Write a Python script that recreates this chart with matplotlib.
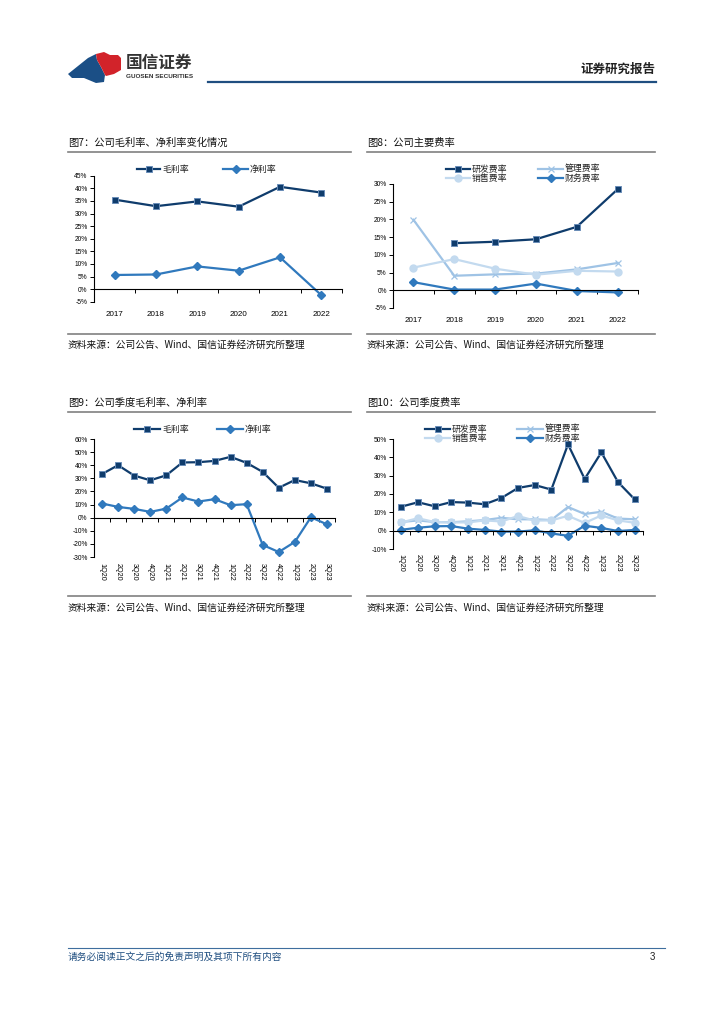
import numpy as np
import matplotlib
matplotlib.use('Agg')
import matplotlib.pyplot as plt
from matplotlib.patches import Polygon
from matplotlib.transforms import blended_transform_factory

plt.rcParams['font.family'] = ['Liberation Sans', 'Noto Sans CJK SC', 'DejaVu Sans']
plt.rcParams['axes.unicode_minus'] = False

# ---- 数据 ----
years = ['2017', '2018', '2019', '2020', '2021', '2022']
gross_y = [35.5, 32.9, 34.8, 32.7, 40.6, 38.3]
net_y = [5.6, 5.8, 9.0, 7.3, 12.6, -2.4]

rd_y = [np.nan, 13.3, 13.7, 14.4, 17.9, 28.5]
admin_y = [19.9, 4.1, 4.5, 4.7, 5.9, 7.7]
sales_y = [6.4, 8.8, 6.1, 4.4, 5.5, 5.3]
fin_y = [2.3, 0.2, 0.2, 1.9, -0.2, -0.6]

quarters = ['1Q20', '2Q20', '3Q20', '4Q20', '1Q21', '2Q21', '3Q21', '4Q21',
            '1Q22', '2Q22', '3Q22', '4Q22', '1Q23', '2Q23', '3Q23']
gross_q = [33.3, 40.0, 32.1, 28.5, 32.3, 42.1, 42.3, 43.3, 46.4, 41.8, 34.9, 22.8, 28.7, 26.2, 22.1]
net_q = [10.8, 8.2, 6.7, 4.4, 6.9, 15.4, 12.3, 14.1, 9.5, 10.3, -20.8, -26.2, -18.5, 0.3, -5.1]

rd_q = [13.1, 15.5, 13.3, 15.6, 15.3, 14.4, 17.8, 23.3, 24.9, 22.4, 47.1, 28.2, 42.7, 26.5, 17.1]
admin_q = [4.7, 5.6, 4.7, 4.6, 5.1, 5.8, 7.0, 6.2, 6.2, 5.8, 12.9, 9.1, 10.3, 6.6, 6.2]
sales_q = [4.5, 6.8, 4.7, 4.5, 4.5, 5.6, 5.0, 8.0, 5.5, 5.6, 8.1, 4.2, 8.3, 5.6, 4.3]
fin_q = [0.5, 1.6, 2.4, 2.5, 1.1, 0.4, -0.5, -0.5, 0.2, -1.5, -2.8, 2.7, 1.5, -0.2, 0.4]

# ---- 样式 ----
NAVY = '#0F3C6C'
MID = '#3079BD'
LIGHT = '#9FC3E5'
PALE = '#C3DAEF'
GRID = '#808080'
CJK = ['Noto Sans CJK SC', 'DejaVu Sans']

W, H = 724, 1024
fig = plt.figure(figsize=(W / 100, H / 100), dpi=100)

# 整页像素坐标的覆盖层
page = fig.add_axes([0, 0, 1, 1])
page.set_xlim(0, W)
page.set_ylim(H, 0)
page.axis('off')
page.set_zorder(5)


def px_axes(x0, y0, x1, y1):
    return fig.add_axes([x0 / W, 1 - y1 / H, (x1 - x0) / W, (y1 - y0) / H])


STYLE = {
    'sq': dict(marker='s', markersize=5.0, markerfacecolor=NAVY, markeredgecolor='#6A8DB8', markeredgewidth=0.7, color=NAVY),
    'di': dict(marker='D', markersize=3.8, markerfacecolor=MID, markeredgecolor=MID, color=MID),
    'x': dict(marker='x', markersize=4.4, markeredgewidth=0.9, color=LIGHT),
    'ci': dict(marker='o', markersize=5.0, markerfacecolor=PALE, markeredgecolor=PALE, color=PALE),
}


def draw_chart(ax, cats, series, ylim, step, rotate=False):
    n = len(cats)
    x = np.arange(n)
    for vals, key in series:
        ax.plot(x, vals, lw=1.6, clip_on=False, **STYLE[key])
    ax.set_xlim(-0.5, n - 0.5)
    ax.set_ylim(*ylim)
    ticks = np.arange(ylim[0], ylim[1] + 0.1, step)
    ax.set_yticks(ticks)
    ax.set_yticklabels([f'{int(t)}%' for t in ticks], fontsize=4.8)
    for s in ['top', 'right']:
        ax.spines[s].set_visible(False)
    ax.spines['bottom'].set_position(('data', 0))
    ax.spines['left'].set_color('black')
    ax.spines['left'].set_linewidth(0.8)
    ax.spines['bottom'].set_linewidth(0.8)
    ax.set_xticks(np.arange(n + 1) - 0.5)
    ax.set_xticklabels([])
    ax.tick_params(axis='x', length=3, width=0.7, direction='out')
    ax.tick_params(axis='y', length=3, width=0.7, direction='out', pad=1.5)
    ax.patch.set_alpha(0)
    tr = blended_transform_factory(ax.transData, ax.transAxes)
    for i, c in enumerate(cats):
        if rotate:
            ax.text(i, -0.05, c, transform=tr, rotation=-90, ha='center', va='top', fontsize=5.2)
        else:
            ax.text(i, -0.075, c, transform=tr, ha='center', va='top', fontsize=5.8)


def legend_entry(x0, x1, y, key, label):
    st = STYLE[key]
    page.plot([x0, x1], [y, y], color=st['color'], lw=1.6)
    kw = {k: v for k, v in st.items() if k != 'color'}
    page.plot([(x0 + x1) / 2], [y], linestyle='none', color=st['color'], **kw)
    page.text(x1 + 2, y, label, fontsize=6.4, va='center', ha='left', family=CJK, color='#222222')


def frame(x0, x1, y_title, y_line, y_src_line, y_src, title):
    page.text(x0, y_title, title, fontsize=7.4, va='center', ha='left', family=CJK, color='#111111')
    page.plot([x0, x1], [y_line, y_line], color=GRID, lw=1.2)
    page.plot([x0, x1], [y_src_line, y_src_line], color=GRID, lw=1.2)
    page.text(x0, y_src, '资料来源：公司公告、Wind、国信证券经济研究所整理', fontsize=7.0,
              va='center', ha='left', family=CJK, color='#111111')


# ---- 图7 ----
ax7 = px_axes(94, 175.7, 342, 301.7)
draw_chart(ax7, years, [(gross_y, 'sq'), (net_y, 'di')], (-5, 45), 5)
frame(68, 351, 143, 152, 334, 345, '图7：公司毛利率、净利率变化情况')
legend_entry(137, 160, 169, 'sq', '毛利率')
legend_entry(223, 248, 169, 'di', '净利率')

# ---- 图8 ----
ax8 = px_axes(393, 184, 638, 308)
draw_chart(ax8, years, [(admin_y, 'x'), (sales_y, 'ci'), (fin_y, 'di'), (rd_y, 'sq')], (-5, 30), 5)
frame(367, 655, 143, 152, 334, 345, '图8：公司主要费率')
legend_entry(446, 470, 169, 'sq', '研发费率')
legend_entry(538, 563, 169, 'x', '管理费率')
legend_entry(446, 470, 178, 'ci', '销售费率')
legend_entry(538, 563, 178, 'di', '财务费率')

# ---- 图9 ----
ax9 = px_axes(94, 439, 335, 557)
draw_chart(ax9, quarters, [(gross_q, 'sq'), (net_q, 'di')], (-30, 60), 10, rotate=True)
frame(68, 351, 403, 412, 596, 608, '图9：公司季度毛利率、净利率')
legend_entry(134, 160, 429, 'sq', '毛利率')
legend_entry(217, 243, 429, 'di', '净利率')

# ---- 图10 ----
ax10 = px_axes(393, 439, 643, 549)
draw_chart(ax10, quarters, [(admin_q, 'x'), (sales_q, 'ci'), (fin_q, 'di'), (rd_q, 'sq')], (-10, 50), 10, rotate=True)
frame(367, 655, 403, 412, 596, 608, '图10：公司季度费率')
legend_entry(425, 450, 429, 'sq', '研发费率')
legend_entry(517, 543, 429, 'x', '管理费率')
legend_entry(425, 450, 438, 'ci', '销售费率')
legend_entry(517, 543, 438, 'di', '财务费率')

# ---- 页眉 ----
blue_shape = [(68, 74), (78, 66), (88, 58), (96, 54), (97, 60), (101, 67), (105, 75), (104, 82),
              (96, 83), (84, 78), (72, 78)]
red_shape = [(96, 54), (104, 52), (110, 55), (118, 55), (121, 58), (121, 70), (114, 74), (106, 76),
             (105, 75), (101, 67), (97, 60)]
page.add_patch(Polygon(blue_shape, closed=True, color='#1B4F86', lw=0))
page.add_patch(Polygon(red_shape, closed=True, color='#D2232A', lw=0))
page.text(126, 63, '国信证券', fontsize=12, family=CJK, va='center', ha='left', color='#333333', fontweight='bold')
page.text(126, 77, 'GUOSEN SECURITIES', fontsize=4.6, va='center', ha='left', color='#333333', fontweight='bold')
page.plot([208, 656], [82, 82], color='#1F4E80', lw=1.6)
page.text(655, 69, '证券研究报告', fontsize=9, family=CJK, va='center', ha='right', color='#222222', fontweight='bold')

# ---- 页脚 ----
page.plot([68, 665], [948, 948], color='#3F6E9E', lw=0.8)
page.text(68, 957, '请务必阅读正文之后的免责声明及其项下所有内容', fontsize=7, family=CJK,
          style='italic', va='center', ha='left', color='#1F4E80')
page.text(655, 957, '3', fontsize=7, va='center', ha='right', color='#222222')

fig.savefig('out.png', dpi=100)
